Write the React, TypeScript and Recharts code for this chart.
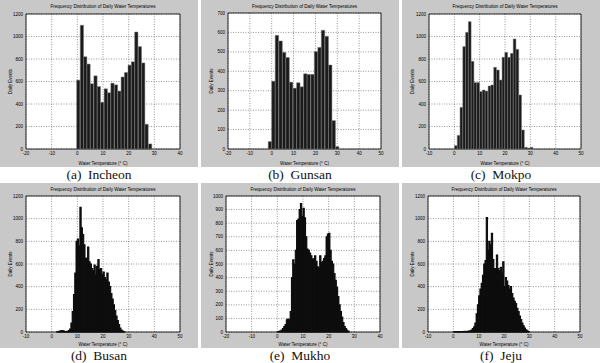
import { BarChart, Bar, XAxis, YAxis, CartesianGrid, ReferenceArea } from 'recharts'

// bin centres (°C) and daily counts
const incheonTemp = [0.4, 1.8, 3.1, 4.4, 5.7, 7.1, 8.4, 9.7, 11.1, 12.4, 13.7, 15.1, 16.4, 17.7, 19.0, 20.4, 21.7, 23.0, 24.4, 25.7, 27.0, 28.4]
const incheonCount = [612, 1100, 820, 755, 580, 650, 555, 415, 535, 500, 585, 570, 515, 640, 680, 745, 775, 1040, 910, 765, 220, 45]

const gunsanTemp = [-0.8, 0.8, 2.4, 4.1, 5.7, 7.3, 8.9, 10.6, 12.2, 13.8, 15.4, 17.0, 18.7, 20.3, 21.9, 23.5, 25.2, 26.8, 28.4, 30.0]
const gunsanCount = [38, 349, 585, 556, 497, 471, 344, 313, 341, 320, 387, 384, 384, 501, 523, 611, 580, 432, 146, 12]

const mokpoTemp = [0.6, 1.7, 2.8, 3.9, 5.0, 6.1, 7.2, 8.3, 9.4, 10.5, 11.6, 12.7, 13.9, 15.0, 16.1, 17.2, 18.3, 19.4, 20.5, 21.6, 22.7, 23.8, 24.9, 26.0, 27.1, 28.3, 29.4, 30.5]
const mokpoCount = [30, 121, 370, 910, 1037, 1132, 779, 590, 590, 510, 524, 515, 560, 569, 726, 702, 613, 815, 859, 815, 850, 978, 886, 480, 169, 15, 8, 15]

const busanTemp = [
  2.25, 2.75, 3.25, 3.75, 4.25, 4.75, 5.25, 5.75, 6.25, 6.75, 7.25, 7.75, 8.25, 8.75, 9.25, 9.75,
  10.25, 10.75, 11.25, 11.75, 12.25, 12.75, 13.25, 13.75, 14.25, 14.75, 15.25, 15.75, 16.25, 16.75,
  17.25, 17.75, 18.25, 18.75, 19.25, 19.75, 20.25, 20.75, 21.25, 21.75, 22.25, 22.75, 23.25, 23.75,
  24.25, 24.75, 25.25, 25.75, 26.25, 26.75, 27.25, 27.75, 28.25,
]
const busanCount = [
  3, 5, 8, 10, 12, 8, 5, 4, 6, 12, 25, 80, 180, 330, 520, 800,
  820, 760, 1100, 920, 860, 770, 650, 650, 750, 620, 600, 560, 540, 590,
  500, 580, 640, 550, 560, 510, 530, 480, 460, 520, 440, 400, 340, 290,
  240, 190, 140, 100, 65, 35, 18, 8, 3,
]

const mukhoTemp = [
  0.25, 0.75, 1.25, 1.75, 2.25, 2.75, 3.25, 3.75, 4.25, 4.75, 5.25, 5.75, 6.25, 6.75, 7.25, 7.75,
  8.25, 8.75, 9.25, 9.75, 10.25, 10.75, 11.25, 11.75, 12.25, 12.75, 13.25, 13.75, 14.25, 14.75,
  15.25, 15.75, 16.25, 16.75, 17.25, 17.75, 18.25, 18.75, 19.25, 19.75, 20.25, 20.75, 21.25, 21.75,
  22.25, 22.75, 23.25, 23.75, 24.25, 24.75, 25.25, 25.75, 26.25, 26.75, 27.25, 27.75,
]
const mukhoCount = [
  3, 5, 8, 15, 25, 40, 55, 90, 95, 90, 150, 400, 530, 500, 600, 820,
  830, 900, 945, 850, 910, 840, 700, 610, 600, 580, 560, 535, 540, 560,
  520, 480, 470, 560, 510, 520, 540, 560, 700, 720, 725, 600, 520, 500,
  430, 380, 330, 260, 200, 150, 110, 70, 40, 25, 12, 5,
]

const jejuTemp = [
  0.25, 0.75, 1.25, 1.75, 2.25, 2.75, 3.25, 3.75, 4.25, 4.75, 5.25, 5.75, 6.25, 6.75, 7.25, 7.75,
  8.25, 8.75, 9.25, 9.75, 10.25, 10.75, 11.25, 11.75, 12.25, 12.75, 13.25, 13.75, 14.25, 14.75,
  15.25, 15.75, 16.25, 16.75, 17.25, 17.75, 18.25, 18.75, 19.25, 19.75, 20.25, 20.75, 21.25, 21.75,
  22.25, 22.75, 23.25, 23.75, 24.25, 24.75, 25.25, 25.75, 26.25, 26.75, 27.25, 27.75, 28.25, 28.75,
  29.25, 29.75,
]
const jejuCount = [
  2, 3, 3, 4, 3, 3, 4, 4, 5, 5, 5, 6, 8, 10, 18, 30,
  45, 80, 160, 240, 320, 380, 430, 500, 600, 630, 1010, 720, 800, 770,
  870, 640, 560, 560, 680, 560, 540, 570, 520, 620, 400, 480, 450, 410,
  380, 400, 340, 300, 270, 250, 210, 180, 140, 110, 80, 55, 35, 20,
  10, 4,
]

const ticksM20to40 = [-20, -10, 0, 10, 20, 30, 40]
const ticksM20to50 = [-20, -10, 0, 10, 20, 30, 40, 50]
const ticksM10to50 = [-10, 0, 10, 20, 30, 40, 50]
const counts1200 = [0, 200, 400, 600, 800, 1000, 1200]
const counts700 = [0, 100, 200, 300, 400, 500, 600, 700]
const counts1000 = [0, 100, 200, 300, 400, 500, 600, 700, 800, 900, 1000]

const TITLE = 'Frequency Distribution of Daily Water Temperatures'
const SANS = '"Liberation Sans", Arial, sans-serif'
const SERIF = '"Liberation Serif", "DejaVu Serif", serif'
const SMALL = 4.5

interface HistProps {
  left: number
  top: number
  width: number
  height: number
  plot: [number, number, number, number] // left, top, right, bottom inside the grey box
  temps: number[]
  counts: number[]
  binWidth: number
  xTicks: number[]
  yTicks: number[]
  caption: string
  wide: boolean
}

function Histogram({ left, top, width, height, plot, temps, counts, binWidth, xTicks, yTicks, caption, wide }: HistProps) {
  const [pl, pt, pr, pb] = plot
  const xDomain: [number, number] = [xTicks[0], xTicks[xTicks.length - 1]]
  const yDomain: [number, number] = [yTicks[0], yTicks[yTicks.length - 1]]
  const data = temps.map((t, i) => ({ temp: t, count: counts[i] }))
  // keep the bar just under the bin spacing so recharts does not shrink it
  const barSize = (0.97 * binWidth * (pr - pl)) / (xDomain[1] - xDomain[0])

  return (
    <>
      <div style={{ position: 'absolute', left, top, width, height, background: '#c8c8c8' }}>
        <BarChart width={width} height={height} data={data} margin={{ top: pt, right: width - pr, left: 0, bottom: 0 }}>
          <CartesianGrid stroke="#333" strokeDasharray="1 1.5" strokeWidth={0.5} fill="#fff" fillOpacity={1} />
          <XAxis
            dataKey="temp"
            type="number"
            domain={xDomain}
            ticks={xTicks}
            interval={0}
            allowDataOverflow
            height={height - pb}
            tickLine={false}
            axisLine={false}
            tickSize={2}
            tickMargin={1}
            tick={{ fontSize: SMALL, fill: '#000', fontFamily: SANS }}
            label={{ value: 'Water Temperature (° C)', position: 'insideBottom', offset: 2.5, fontSize: SMALL, fill: '#000', fontFamily: SANS }}
          />
          <YAxis
            type="number"
            domain={yDomain}
            ticks={yTicks}
            interval={0}
            width={pl}
            tickLine={false}
            axisLine={false}
            tickSize={2}
            tickMargin={1}
            tick={{ fontSize: SMALL, fill: '#000', fontFamily: SANS }}
            label={{
              value: 'Daily Events',
              angle: -90,
              position: 'insideLeft',
              offset: 10,
              fontSize: SMALL,
              fill: '#000',
              fontFamily: SANS,
              style: { textAnchor: 'middle' },
            }}
          />
          <Bar
            dataKey="count"
            barSize={barSize}
            fill={wide ? '#1a1a1a' : '#0d0d0d'}
            stroke={wide ? '#777' : '#0d0d0d'}
            strokeWidth={wide ? 0.5 : 1.1}
            isAnimationActive={false}
          />
          <ReferenceArea
            x1={xDomain[0]}
            x2={xDomain[1]}
            y1={yDomain[0]}
            y2={yDomain[1]}
            fill="none"
            stroke="#000"
            strokeWidth={0.8}
            ifOverflow="visible"
          />
        </BarChart>
        <div
          style={{
            position: 'absolute',
            left: pl,
            width: pr - pl,
            top: 4,
            textAlign: 'center',
            fontFamily: SANS,
            fontSize: 4.6,
            lineHeight: '5px',
            whiteSpace: 'nowrap',
          }}
        >
          {TITLE}
        </div>
      </div>
      <div
        style={{
          position: 'absolute',
          left,
          width,
          top: top + height + 1,
          textAlign: 'center',
          fontFamily: SERIF,
          fontSize: 13.5,
          lineHeight: '14px',
          whiteSpace: 'pre',
          color: '#111',
        }}
      >
        {caption}
      </div>
    </>
  )
}

export default function App() {
  return (
    <div style={{ position: 'absolute', left: 0, top: 0, width: 600, height: 363, background: '#fff', overflow: 'hidden' }}>
      <Histogram left={0} top={0} width={198} height={167} plot={[26, 14, 180, 149]} temps={incheonTemp} counts={incheonCount} binWidth={1.3} xTicks={ticksM20to40} yTicks={counts1200} caption="(a)  Incheon" wide />
      <Histogram left={201} top={0} width={198} height={167} plot={[27, 13, 180, 149]} temps={gunsanTemp} counts={gunsanCount} binWidth={1.6} xTicks={ticksM20to50} yTicks={counts700} caption="(b)  Gunsan" wide />
      <Histogram left={402} top={0} width={198} height={167} plot={[27, 14, 179, 149]} temps={mokpoTemp} counts={mokpoCount} binWidth={1.1} xTicks={ticksM10to50} yTicks={counts1200} caption="(c)  Mokpo" wide />
      <Histogram left={0} top={183} width={198} height={165} plot={[26, 13, 180, 149]} temps={busanTemp} counts={busanCount} binWidth={0.5} xTicks={ticksM10to50} yTicks={counts1200} caption="(d)  Busan" wide={false} />
      <Histogram left={201} top={183} width={198} height={165} plot={[25, 13, 179, 149]} temps={mukhoTemp} counts={mukhoCount} binWidth={0.5} xTicks={ticksM20to40} yTicks={counts1000} caption="(e)  Mukho" wide={false} />
      <Histogram left={402} top={183} width={198} height={165} plot={[26, 13, 178, 149]} temps={jejuTemp} counts={jejuCount} binWidth={0.5} xTicks={ticksM10to50} yTicks={counts1200} caption="(f)  Jeju" wide={false} />
    </div>
  )
}
